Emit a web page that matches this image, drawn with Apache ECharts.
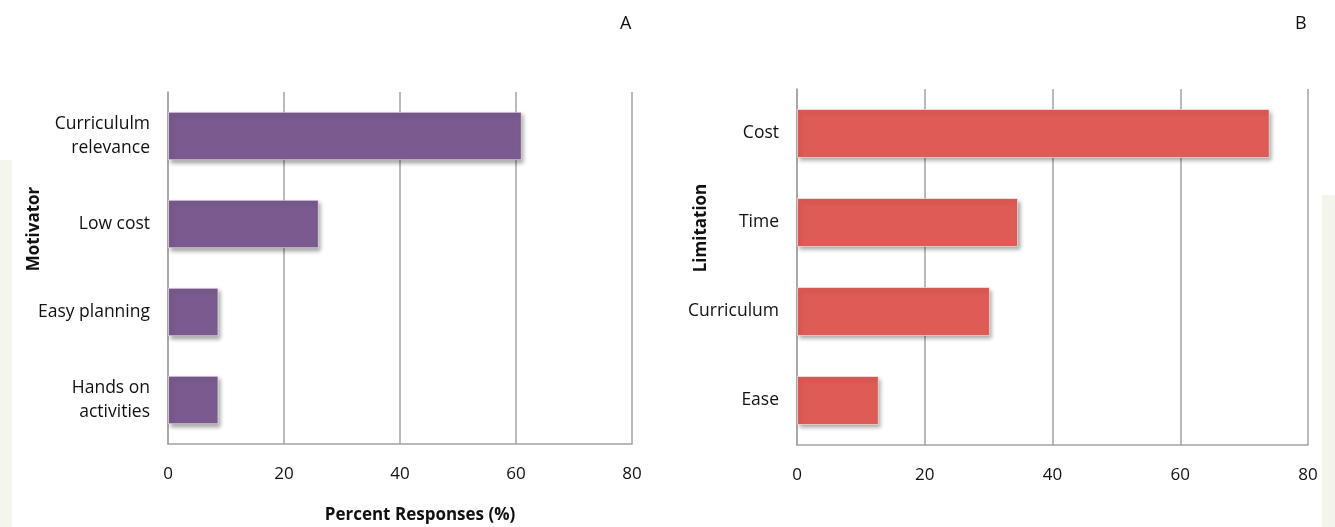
<!DOCTYPE html>
<html>
<head>
<meta charset="utf-8">
<script src="https://cdn.jsdelivr.net/npm/echarts@6/dist/echarts.min.js"></script>
<style>
html,body{margin:0;padding:0;background:#fff;}
#c{width:1335px;height:527px;}
</style>
</head>
<body>
<div id="c"></div>
<script>
const motivators = ['Curricululm\nrelevance', 'Low cost', 'Easy planning', 'Hands on\nactivities'];
const motivatorValues = [61, 26, 8.7, 8.7];
const limitations = ['Cost', 'Time', 'Curriculum', 'Ease'];
const limitationValues = [74, 34.6, 30.2, 12.8];
const xTicks = [0, 20, 40, 60, 80];
const xTitle = 'Percent Responses (%)';
const yTitleA = 'Motivator';
const yTitleB = 'Limitation';

const FONT = '"Open Sans", "DejaVu Sans", sans-serif';
const gridColor = '#a3a3a3';

function valueAxis(gridIndex) {
  return {
    type: 'value', gridIndex: gridIndex,
    min: xTicks[0], max: xTicks[xTicks.length - 1], interval: xTicks[1] - xTicks[0],
    axisLine: { show: true, lineStyle: { color: gridColor, width: 1.5 } },
    axisTick: { show: false },
    splitLine: { show: true, lineStyle: { color: gridColor, width: 1.5 } },
    axisLabel: { fontFamily: FONT, fontSize: 17, color: '#111', margin: 22 }
  };
}
function catAxis(gridIndex, data) {
  return {
    type: 'category', gridIndex: gridIndex, data: data, inverse: true,
    axisLine: { show: true, lineStyle: { color: gridColor, width: 1.5 } },
    axisTick: { show: false },
    splitLine: { show: false },
    axisLabel: { fontFamily: FONT, fontSize: 17.5, color: '#111', margin: 18, lineHeight: 24, padding: [7, 0, 0, 0] }
  };
}
function barSeries(idx, data, color) {
  return {
    type: 'bar', xAxisIndex: idx, yAxisIndex: idx, data: data,
    barCategoryGap: '45%',
    itemStyle: {
      color: color, borderColor: 'rgba(255,255,255,0.55)', borderWidth: 1,
      shadowColor: 'rgba(0,0,0,0.35)', shadowBlur: 4, shadowOffsetX: 2, shadowOffsetY: 3
    },
    silent: true
  };
}
const titleFont = 'bold 17px ' + FONT;

const chart = echarts.init(document.getElementById('c'), null, { renderer: 'canvas' });
chart.setOption({
  backgroundColor: '#ffffff',
  animation: false,
  graphic: [
    { type: 'rect', shape: { x: 0, y: 160, width: 12, height: 367 }, style: { fill: '#f4f5ec' }, z: -10 },
    { type: 'rect', shape: { x: 1322, y: 195, width: 13, height: 332 }, style: { fill: '#f3f4ea' }, z: -10 },
    { type: 'text', left: 620, top: 15, style: { text: 'A', font: '18px ' + FONT, fill: '#111' } },
    { type: 'text', left: 1295, top: 15, style: { text: 'B', font: '18px ' + FONT, fill: '#111' } },
    { type: 'text', x: 420, y: 515, style: { text: xTitle, font: titleFont, fill: '#111', align: 'center', verticalAlign: 'middle' } },
    { type: 'text', x: 34, y: 229, rotation: Math.PI / 2, style: { text: yTitleA, font: titleFont, fill: '#111', align: 'center', verticalAlign: 'middle' } },
    { type: 'text', x: 701, y: 228, rotation: Math.PI / 2, style: { text: yTitleB, font: titleFont, fill: '#111', align: 'center', verticalAlign: 'middle' } }
  ],
  grid: [
    { left: 168, right: 703, top: 92, bottom: 83, outerBoundsMode: 'none' },
    { left: 797, right: 27, top: 89, bottom: 82, outerBoundsMode: 'none' }
  ],
  xAxis: [valueAxis(0), valueAxis(1)],
  yAxis: [catAxis(0, motivators), catAxis(1, limitations)],
  series: [
    barSeries(0, motivatorValues, '#7a5a8f'),
    barSeries(1, limitationValues, '#de5b56')
  ]
});
</script>
</body>
</html>
